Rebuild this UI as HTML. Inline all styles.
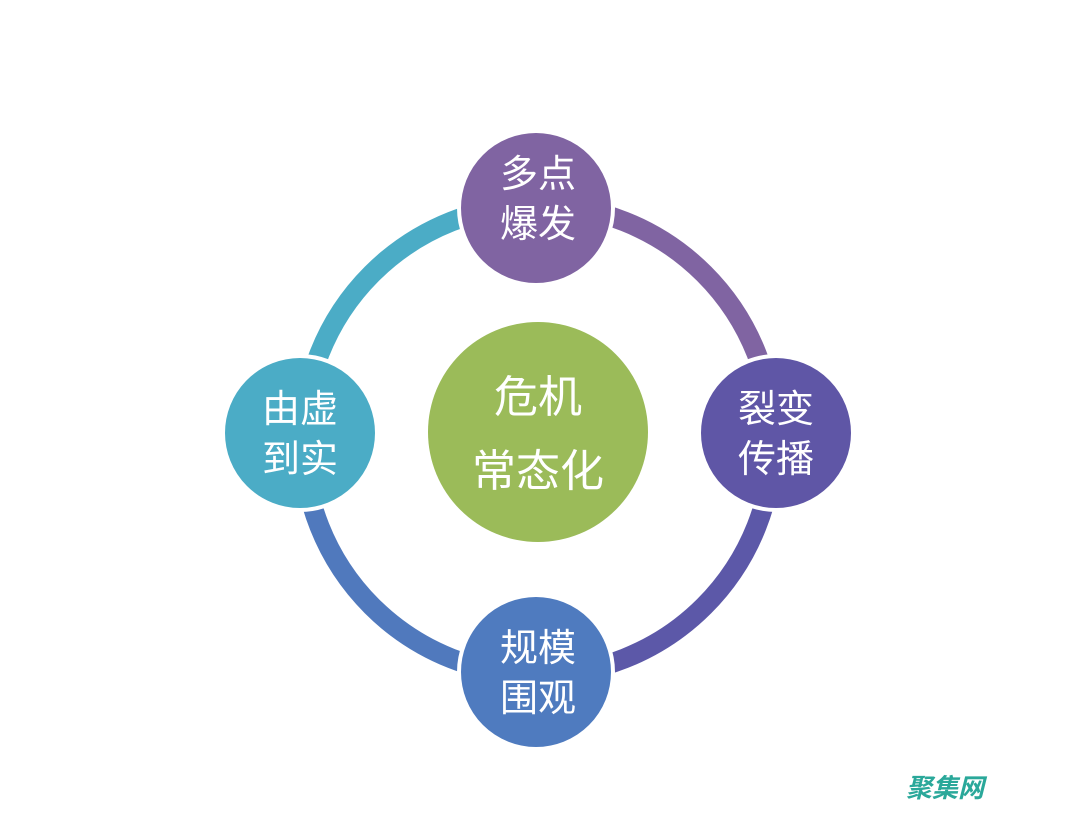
<!DOCTYPE html>
<html><head><meta charset="utf-8"><style>
html,body{margin:0;padding:0;background:#fff}
svg text{font-family:"Liberation Sans","Noto Sans CJK SC",sans-serif;fill:#fff}
</style></head><body>
<svg width="1080" height="810" viewBox="0 0 1080 810" xmlns="http://www.w3.org/2000/svg">
<rect width="1080" height="810" fill="#fff"/>
<g fill="none" stroke-width="20">
<path d="M303 440 A235 235 0 0 1 538 205" stroke="#4bacc6"/>
<path d="M538 205 A235 235 0 0 1 773 440" stroke="#8064a2"/>
<path d="M773 440 A235 235 0 0 1 538 675" stroke="#5c58a8"/>
<path d="M538 675 A235 235 0 0 1 303 440" stroke="#5079bd"/>
</g>
<circle cx="538" cy="432" r="110" fill="#9bbb59"/>
<g stroke="#fff" stroke-width="4">
<circle cx="536" cy="208" r="77" fill="#8064a2"/>
<circle cx="776" cy="433" r="77" fill="#5f56a6"/>
<circle cx="536" cy="672" r="77" fill="#4f7bbf"/>
<circle cx="300" cy="433" r="77" fill="#4bacc6"/>
</g>
<g font-size="38" text-anchor="middle">
<text x="538" y="187">多点</text><text x="538" y="237">爆发</text>
<text x="776" y="422">裂变</text><text x="776" y="472">传播</text>
<text x="538" y="661">规模</text><text x="538" y="711">围观</text>
<text x="300" y="422">由虚</text><text x="300" y="472">到实</text>
</g>
<g font-size="44" text-anchor="middle">
<text x="538" y="412">危机</text><text x="538" y="486">常态化</text>
</g>
<text x="945" y="797" font-size="26" font-weight="bold" font-style="italic" text-anchor="middle" style="fill:#2aa89a">聚集网</text>
</svg>
</body></html>
